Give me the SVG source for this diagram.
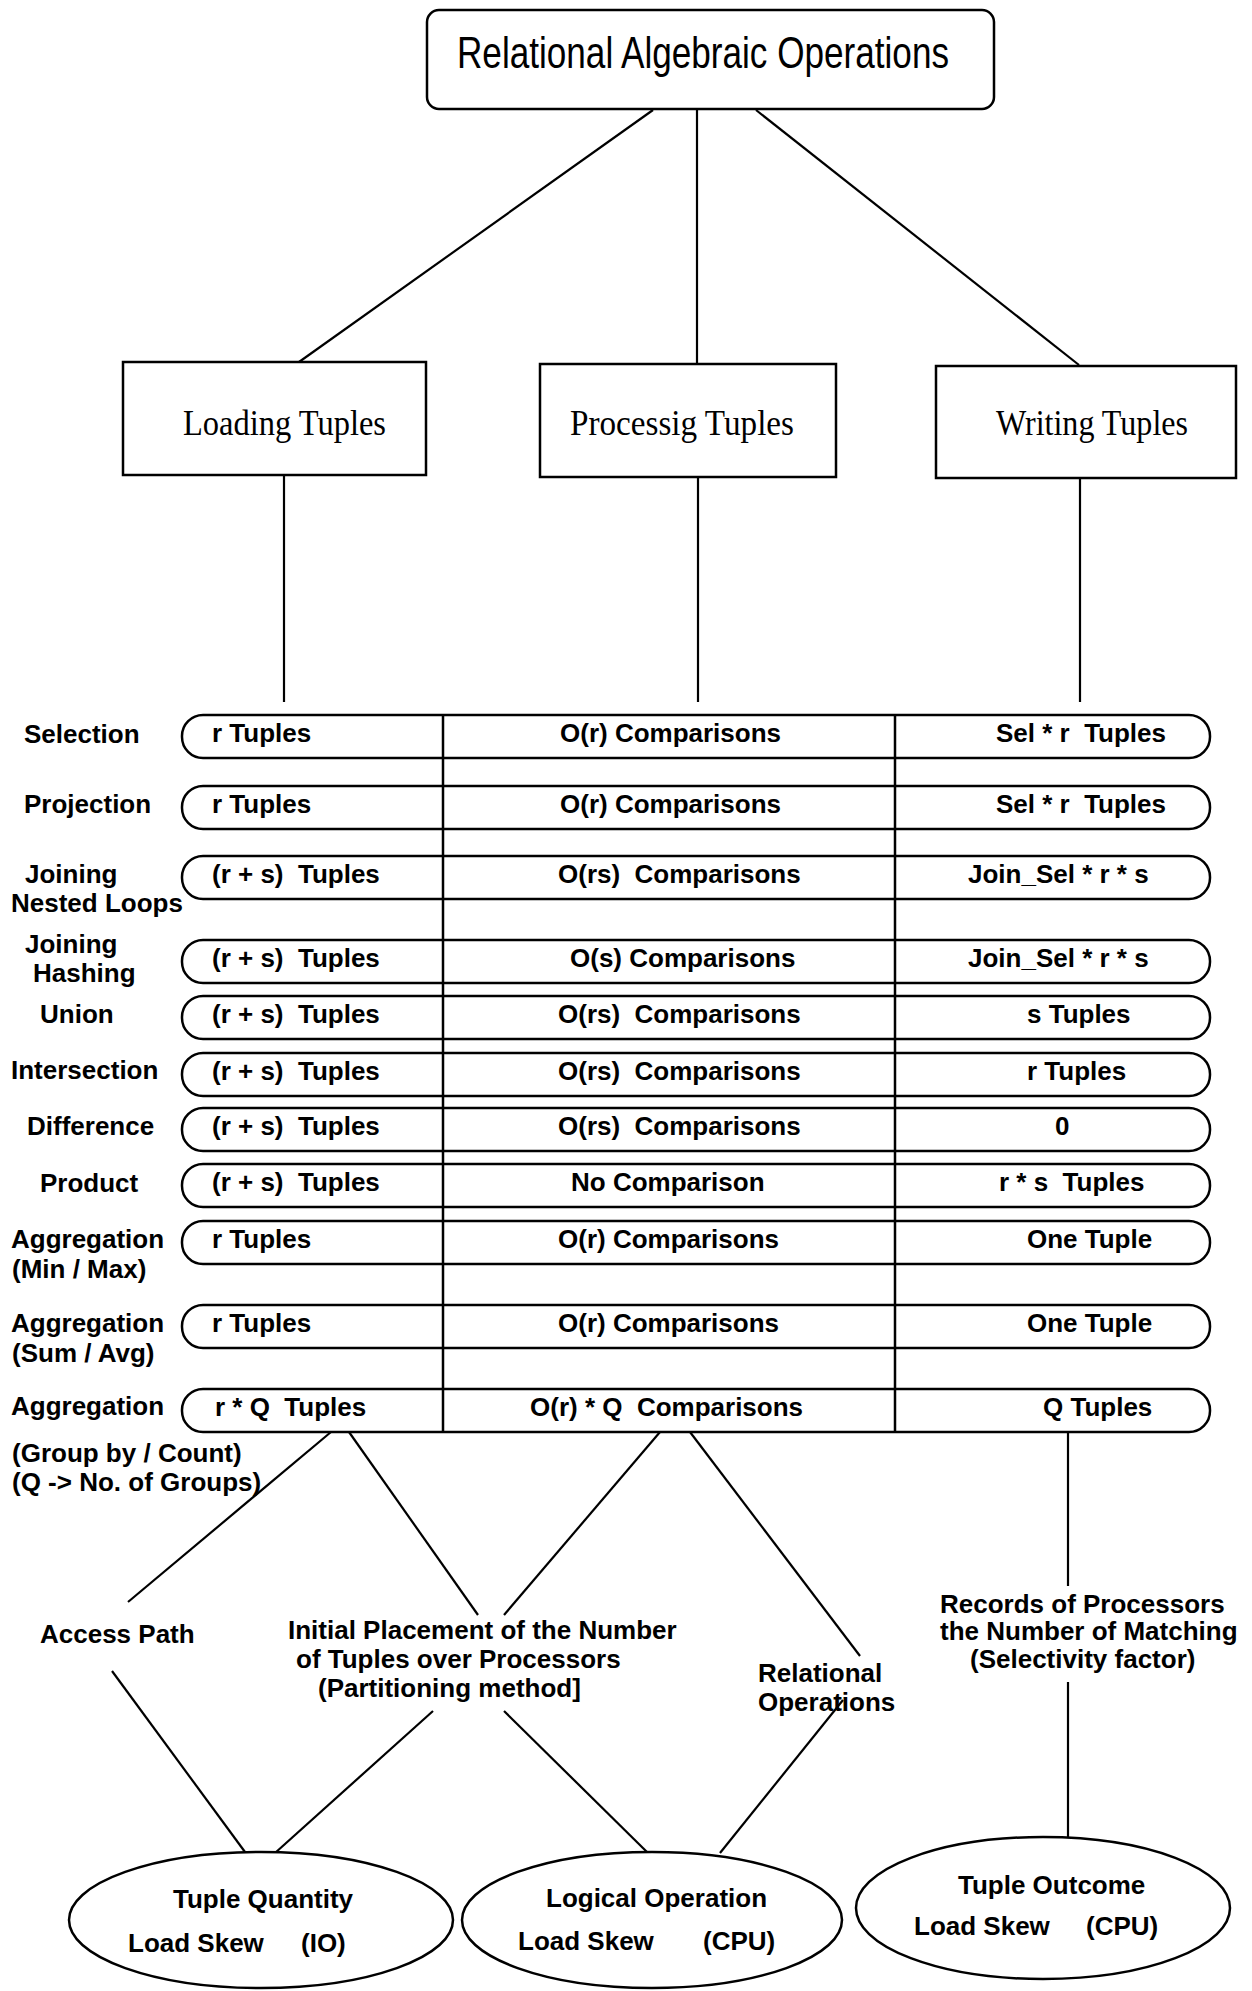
<svg xmlns="http://www.w3.org/2000/svg" width="1252" height="1991" viewBox="0 0 1252 1991">
<style>
.bg{fill:#fff}
.box{fill:#fff;stroke:#000;stroke-width:2.5}
.ln{fill:none;stroke:#000;stroke-width:2.2}
.t{font-family:"Liberation Sans",Arial,sans-serif;font-weight:bold;font-size:26px;fill:#000;white-space:pre}
.title{font-family:"Liberation Sans",Arial,sans-serif;font-size:44px;fill:#000}
.serif{font-family:"Liberation Serif","Times New Roman",serif;font-size:36px;fill:#000}
</style>
<rect class="bg" x="0" y="0" width="1252" height="1991"/>

<g id="connectors">
  <line class="ln" x1="653" y1="110" x2="299" y2="362"/>
  <line class="ln" x1="697" y1="110" x2="697" y2="363"/>
  <line class="ln" x1="756" y1="110" x2="1079" y2="365"/>
  <line class="ln" x1="284" y1="475" x2="284" y2="702"/>
  <line class="ln" x1="698" y1="477" x2="698" y2="702"/>
  <line class="ln" x1="1080" y1="478" x2="1080" y2="702"/>
  <line class="ln" x1="331" y1="1432" x2="128" y2="1602"/>
  <line class="ln" x1="349" y1="1432" x2="478" y2="1615"/>
  <line class="ln" x1="660" y1="1432" x2="504" y2="1615"/>
  <line class="ln" x1="690" y1="1432" x2="860" y2="1656"/>
  <line class="ln" x1="1068" y1="1432" x2="1068" y2="1586"/>
  <line class="ln" x1="112" y1="1671" x2="245" y2="1852"/>
  <line class="ln" x1="433" y1="1711" x2="275" y2="1853"/>
  <line class="ln" x1="504" y1="1711" x2="647" y2="1852"/>
  <line class="ln" x1="843" y1="1700" x2="720" y2="1853"/>
  <line class="ln" x1="1068" y1="1682" x2="1068" y2="1837"/>
</g>

<g id="root">
  <rect class="box" x="427" y="10" width="567" height="99" rx="12"/>
  <text class="title" x="457" y="68" textLength="492" lengthAdjust="spacingAndGlyphs">Relational Algebraic Operations</text>
</g>
<g id="loading">
  <rect class="box" x="123" y="362" width="303" height="113"/>
  <text class="serif" x="183" y="435" textLength="203" lengthAdjust="spacingAndGlyphs">Loading Tuples</text>
</g>
<g id="processing">
  <rect class="box" x="540" y="364" width="296" height="113"/>
  <text class="serif" x="570" y="435" textLength="224" lengthAdjust="spacingAndGlyphs">Processig Tuples</text>
</g>
<g id="writing">
  <rect class="box" x="936" y="366" width="300" height="112"/>
  <text class="serif" x="996" y="435" textLength="192" lengthAdjust="spacingAndGlyphs">Writing Tuples</text>
</g>

<g id="table">
  <rect class="box" x="182" y="715" width="1028" height="43" rx="21"/>
  <rect class="box" x="182" y="786" width="1028" height="43" rx="21"/>
  <rect class="box" x="182" y="856" width="1028" height="43" rx="21"/>
  <rect class="box" x="182" y="940" width="1028" height="43" rx="21"/>
  <rect class="box" x="182" y="996" width="1028" height="43" rx="21"/>
  <rect class="box" x="182" y="1053" width="1028" height="43" rx="21"/>
  <rect class="box" x="182" y="1108" width="1028" height="43" rx="21"/>
  <rect class="box" x="182" y="1164" width="1028" height="43" rx="21"/>
  <rect class="box" x="182" y="1221" width="1028" height="43" rx="21"/>
  <rect class="box" x="182" y="1305" width="1028" height="43" rx="21"/>
  <rect class="box" x="182" y="1389" width="1028" height="43" rx="21"/>
  <line class="ln" x1="443" y1="715" x2="443" y2="1432" style="stroke-width:2.5"/>
  <line class="ln" x1="895" y1="715" x2="895" y2="1432" style="stroke-width:2.5"/>
</g>

<g id="row-selection">
  <text class="t" x="24" y="743">Selection</text>
  <text class="t" x="212" y="742">r Tuples</text>
  <text class="t" x="560" y="742">O(r) Comparisons</text>
  <text class="t" x="996" y="742">Sel * r  Tuples</text>
</g>
<g id="row-projection">
  <text class="t" x="24" y="813">Projection</text>
  <text class="t" x="212" y="813">r Tuples</text>
  <text class="t" x="560" y="813">O(r) Comparisons</text>
  <text class="t" x="996" y="813">Sel * r  Tuples</text>
</g>
<g id="row-join-nl">
  <text class="t" x="25" y="883">Joining</text>
  <text class="t" x="11" y="912">Nested Loops</text>
  <text class="t" x="212" y="883">(r + s)  Tuples</text>
  <text class="t" x="558" y="883">O(rs)  Comparisons</text>
  <text class="t" x="968" y="883">Join_Sel * r * s</text>
</g>
<g id="row-join-hash">
  <text class="t" x="25" y="953">Joining</text>
  <text class="t" x="33" y="982">Hashing</text>
  <text class="t" x="212" y="967">(r + s)  Tuples</text>
  <text class="t" x="570" y="967">O(s) Comparisons</text>
  <text class="t" x="968" y="967">Join_Sel * r * s</text>
</g>
<g id="row-union">
  <text class="t" x="40" y="1023">Union</text>
  <text class="t" x="212" y="1023">(r + s)  Tuples</text>
  <text class="t" x="558" y="1023">O(rs)  Comparisons</text>
  <text class="t" x="1027" y="1023">s Tuples</text>
</g>
<g id="row-intersection">
  <text class="t" x="11" y="1079">Intersection</text>
  <text class="t" x="212" y="1080">(r + s)  Tuples</text>
  <text class="t" x="558" y="1080">O(rs)  Comparisons</text>
  <text class="t" x="1027" y="1080">r Tuples</text>
</g>
<g id="row-difference">
  <text class="t" x="27" y="1135">Difference</text>
  <text class="t" x="212" y="1135">(r + s)  Tuples</text>
  <text class="t" x="558" y="1135">O(rs)  Comparisons</text>
  <text class="t" x="1055" y="1135">0</text>
</g>
<g id="row-product">
  <text class="t" x="40" y="1192">Product</text>
  <text class="t" x="212" y="1191">(r + s)  Tuples</text>
  <text class="t" x="571" y="1191">No Comparison</text>
  <text class="t" x="999" y="1191">r * s  Tuples</text>
</g>
<g id="row-agg-minmax">
  <text class="t" x="11" y="1248">Aggregation</text>
  <text class="t" x="12" y="1278">(Min / Max)</text>
  <text class="t" x="212" y="1248">r Tuples</text>
  <text class="t" x="558" y="1248">O(r) Comparisons</text>
  <text class="t" x="1027" y="1248">One Tuple</text>
</g>
<g id="row-agg-sumavg">
  <text class="t" x="11" y="1332">Aggregation</text>
  <text class="t" x="12" y="1362">(Sum / Avg)</text>
  <text class="t" x="212" y="1332">r Tuples</text>
  <text class="t" x="558" y="1332">O(r) Comparisons</text>
  <text class="t" x="1027" y="1332">One Tuple</text>
</g>
<g id="row-agg-group">
  <text class="t" x="11" y="1415">Aggregation</text>
  <text class="t" x="12" y="1462">(Group by / Count)</text>
  <text class="t" x="12" y="1491">(Q -&gt; No. of Groups)</text>
  <text class="t" x="215" y="1416">r * Q  Tuples</text>
  <text class="t" x="530" y="1416">O(r) * Q  Comparisons</text>
  <text class="t" x="1043" y="1416">Q Tuples</text>
</g>

<g id="access-path">
  <text class="t" x="40" y="1643">Access Path</text>
</g>
<g id="initial-placement">
  <text class="t" x="288" y="1639">Initial Placement of the Number</text>
  <text class="t" x="296" y="1668">of Tuples over Processors</text>
  <text class="t" x="318" y="1697">(Partitioning method]</text>
</g>
<g id="relational-operations">
  <text class="t" x="758" y="1682">Relational</text>
  <text class="t" x="758" y="1711">Operations</text>
</g>
<g id="records">
  <text class="t" x="940" y="1613">Records of Processors</text>
  <text class="t" x="940" y="1640">the Number of Matching</text>
  <text class="t" x="970" y="1668">(Selectivity factor)</text>
</g>

<g id="tuple-quantity">
  <ellipse class="box" cx="261" cy="1920" rx="192" ry="68"/>
  <text class="t" x="173" y="1908">Tuple Quantity</text>
  <text class="t" x="128" y="1952">Load Skew</text>
  <text class="t" x="301" y="1952">(IO)</text>
</g>
<g id="logical-operation">
  <ellipse class="box" cx="652" cy="1920" rx="190" ry="68"/>
  <text class="t" x="546" y="1907">Logical Operation</text>
  <text class="t" x="518" y="1950">Load Skew</text>
  <text class="t" x="703" y="1950">(CPU)</text>
</g>
<g id="tuple-outcome">
  <ellipse class="box" cx="1043" cy="1908" rx="187" ry="71"/>
  <text class="t" x="958" y="1894">Tuple Outcome</text>
  <text class="t" x="914" y="1935">Load Skew</text>
  <text class="t" x="1086" y="1935">(CPU)</text>
</g>
</svg>
